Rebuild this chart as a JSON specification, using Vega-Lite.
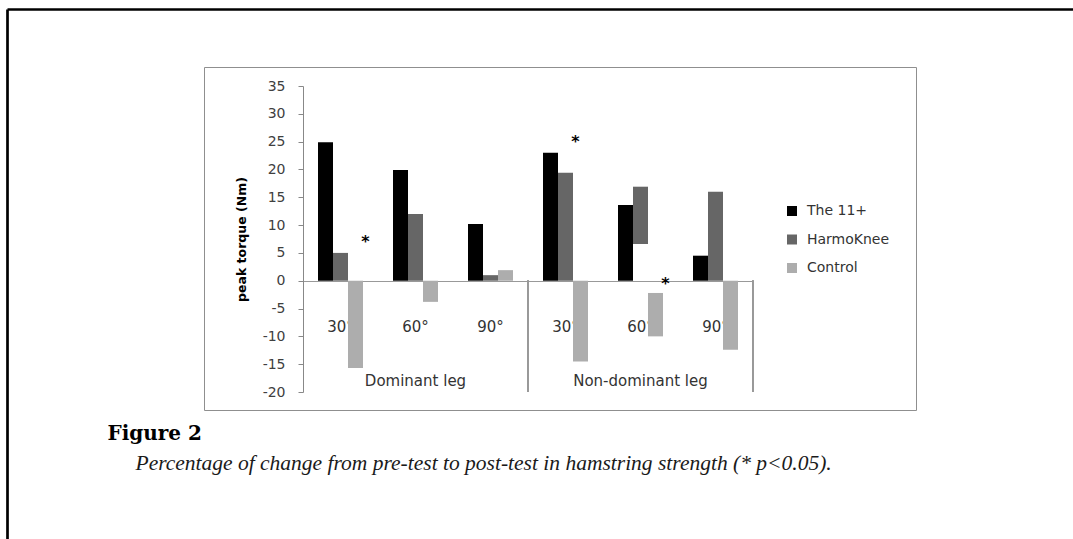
{
  "$schema": "https://vega.github.io/schema/vega-lite/v6.json",
  "width": 712,
  "height": 343,
  "autosize": {"type": "none"},
  "padding": {"left": 204, "top": 67, "right": 157, "bottom": 129},
  "background": "white",
  "config": {
    "view": {"stroke": "#8f8f8f", "strokeWidth": 1},
    "font": "DejaVu Sans"
  },
  "datasets": {
    "bars": [
      {"leg": "Dominant leg", "angle": "30°", "cat": "Dominant leg|30°", "group": "The 11+", "value": 24.9, "low": 0},
      {"leg": "Dominant leg", "angle": "30°", "cat": "Dominant leg|30°", "group": "HarmoKnee", "value": 5.0, "low": 0},
      {"leg": "Dominant leg", "angle": "30°", "cat": "Dominant leg|30°", "group": "Control", "value": -15.7, "low": 0},
      {"leg": "Dominant leg", "angle": "60°", "cat": "Dominant leg|60°", "group": "The 11+", "value": 19.9, "low": 0},
      {"leg": "Dominant leg", "angle": "60°", "cat": "Dominant leg|60°", "group": "HarmoKnee", "value": 12.0, "low": 0},
      {"leg": "Dominant leg", "angle": "60°", "cat": "Dominant leg|60°", "group": "Control", "value": -3.8, "low": 0},
      {"leg": "Dominant leg", "angle": "90°", "cat": "Dominant leg|90°", "group": "The 11+", "value": 10.2, "low": 0},
      {"leg": "Dominant leg", "angle": "90°", "cat": "Dominant leg|90°", "group": "HarmoKnee", "value": 1.0, "low": 0},
      {"leg": "Dominant leg", "angle": "90°", "cat": "Dominant leg|90°", "group": "Control", "value": 1.9, "low": 0},
      {"leg": "Non-dominant leg", "angle": "30°", "cat": "Non-dominant leg|30°", "group": "The 11+", "value": 23.0, "low": 0},
      {"leg": "Non-dominant leg", "angle": "30°", "cat": "Non-dominant leg|30°", "group": "HarmoKnee", "value": 19.4, "low": 0},
      {"leg": "Non-dominant leg", "angle": "30°", "cat": "Non-dominant leg|30°", "group": "Control", "value": -14.5, "low": 0},
      {"leg": "Non-dominant leg", "angle": "60°", "cat": "Non-dominant leg|60°", "group": "The 11+", "value": 13.6, "low": 0},
      {"leg": "Non-dominant leg", "angle": "60°", "cat": "Non-dominant leg|60°", "group": "HarmoKnee", "value": 16.9, "low": 6.6},
      {"leg": "Non-dominant leg", "angle": "60°", "cat": "Non-dominant leg|60°", "group": "Control", "value": -10.0, "low": -2.2},
      {"leg": "Non-dominant leg", "angle": "90°", "cat": "Non-dominant leg|90°", "group": "The 11+", "value": 4.5, "low": 0},
      {"leg": "Non-dominant leg", "angle": "90°", "cat": "Non-dominant leg|90°", "group": "HarmoKnee", "value": 16.0, "low": 0},
      {"leg": "Non-dominant leg", "angle": "90°", "cat": "Non-dominant leg|90°", "group": "Control", "value": -12.4, "low": 0}
    ],
    "stars": [
      {"cat": "Dominant leg|30°", "group": "Control", "value": 7.0},
      {"cat": "Non-dominant leg|30°", "group": "HarmoKnee", "value": 24.9},
      {"cat": "Non-dominant leg|60°", "group": "Control", "value": -0.6}
    ]
  },
  "layer": [
    {
      "data": {"name": "bars"},
      "layer": [
        {
          "mark": {"type": "bar"},
          "encoding": {
            "x": {
              "field": "cat", "type": "nominal",
              "scale": {
                "domain": ["Dominant leg|30°", "Dominant leg|60°", "Dominant leg|90°", "Non-dominant leg|30°", "Non-dominant leg|60°", "Non-dominant leg|90°"],
                "range": [99, 549], "paddingInner": 0, "paddingOuter": 0
              },
              "axis": {
                "orient": "bottom", "offset": -129,
                "domainColor": "#999999", "domainWidth": 1,
                "ticks": false, "tickSize": 0, "labelPadding": 38, "labelAngle": 0,
                "labelFont": "DejaVu Sans", "labelFontSize": 15, "labelColor": "#333333",
                "labelOverlap": false,
                "labelExpr": "split(datum.label, '|')[1]",
                "title": "Percentage of change from pre-test to post-test in hamstring strength (* p<0.05).",
                "titleFont": "Liberation Serif", "titleFontSize": 21.5, "titleFontStyle": "italic", "titleFontWeight": "normal",
                "titleColor": "#1a1a1a", "titleX": -69, "titleY": 188, "titleAlign": "left", "titleBaseline": "alphabetic", "titleAngle": 0
              }
            },
            "xOffset": {
              "field": "group", "type": "nominal",
              "scale": {"domain": ["The 11+", "HarmoKnee", "Control"], "paddingInner": 0, "paddingOuter": 1.5}
            },
            "y": {
              "field": "value", "type": "quantitative",
              "scale": {"domain": [-20, 35], "range": [325, 19], "nice": false, "zero": false},
              "axis": {
                "orient": "left", "offset": -99,
                "values": [-20, -15, -10, -5, 0, 5, 10, 15, 20, 25, 30, 35],
                "labelOverlap": false,
                "grid": false, "domainColor": "#888888", "tickColor": "#888888", "tickSize": 5,
                "labelPadding": 13, "labelFont": "DejaVu Sans", "labelFontSize": 14, "labelColor": "#404040",
                "labelExpr": "toString(datum.value)",
                "title": "peak torque (Nm)", "titleFont": "DejaVu Sans", "titleFontSize": 12.5, "titleFontWeight": "bold",
                "titleColor": "#000000", "titlePadding": 14
              }
            },
            "y2": {"field": "low"},
            "color": {
              "field": "group", "type": "nominal",
              "scale": {"domain": ["The 11+", "HarmoKnee", "Control"], "range": ["#000000", "#666666", "#adadad"]},
              "legend": {
                "orient": "none", "legendX": 581, "legendY": 137, "title": null,
                "symbolType": "square", "symbolSize": 100, "symbolStrokeWidth": 0,
                "labelFont": "DejaVu Sans", "labelFontSize": 14, "labelColor": "#333333",
                "rowPadding": 14.5, "labelOffset": 8, "padding": 0
              }
            }
          }
        },
        {
          "mark": {"type": "rule", "color": "#999999", "strokeWidth": 1},
          "encoding": {
            "x": {"datum": "Non-dominant leg|30°", "type": "nominal", "bandPosition": 0},
            "y": {"datum": 0, "type": "quantitative", "axis": {"values": [-20, -15, -10, -5, 0, 5, 10, 15, 20, 25, 30, 35], "labelOverlap": false}},
            "y2": {"datum": -20}
          }
        },
        {
          "mark": {"type": "rule", "color": "#999999", "strokeWidth": 1},
          "encoding": {
            "x": {"datum": "Non-dominant leg|90°", "type": "nominal", "bandPosition": 1},
            "y": {"datum": 0, "type": "quantitative", "axis": {"values": [-20, -15, -10, -5, 0, 5, 10, 15, 20, 25, 30, 35], "labelOverlap": false}},
            "y2": {"datum": -20}
          }
        },
        {
          "transform": [{"filter": "datum.group === 'The 11+' && datum.angle === '60°'"}],
          "mark": {"type": "text", "font": "DejaVu Sans", "fontSize": 15, "color": "#333333", "baseline": "middle", "align": "center"},
          "encoding": {
            "x": {"field": "cat", "type": "nominal"},
            "y": {"datum": -18, "type": "quantitative", "axis": {"values": [-20, -15, -10, -5, 0, 5, 10, 15, 20, 25, 30, 35], "labelOverlap": false}},
            "text": {"field": "leg"}
          }
        },
        {
          "data": {"name": "stars"},
          "mark": {"type": "text", "font": "DejaVu Sans", "fontSize": 16, "fontWeight": "bold", "color": "#000000", "baseline": "middle", "align": "center", "dx": 10},
          "encoding": {
            "x": {"field": "cat", "type": "nominal"},
            "xOffset": {"field": "group", "type": "nominal"},
            "y": {"field": "value", "type": "quantitative", "axis": {"values": [-20, -15, -10, -5, 0, 5, 10, 15, 20, 25, 30, 35], "labelOverlap": false}},
            "text": {"value": "*"}
          }
        }
      ]
    },
    {
      "data": {"values": [{"frame": "page"}]},
      "mark": {"type": "text"},
      "encoding": {
        "x": {
          "datum": 0, "type": "quantitative",
          "scale": {"domain": [0, 1], "range": [-197, 900]},
          "axis": {
            "orient": "top", "offset": 58, "domainColor": "#000000", "domainWidth": 2.7,
            "ticks": false, "labels": false, "grid": false,
            "title": "Figure 2", "titleFont": "DejaVu Serif", "titleFontSize": 20, "titleFontWeight": "bold",
            "titleColor": "#000000", "titleX": -97, "titleY": 430, "titleAlign": "left", "titleBaseline": "alphabetic", "titleAngle": 0
          }
        },
        "y": {
          "datum": 0, "type": "quantitative",
          "scale": {"domain": [0, 1], "range": [472, -58]},
          "axis": {
            "orient": "left", "offset": 197, "domainColor": "#000000", "domainWidth": 2.7,
            "ticks": false, "labels": false, "grid": false, "title": null
          }
        },
        "text": {"value": ""}
      }
    }
  ],
  "resolve": {
    "scale": {"x": "independent", "y": "independent"},
    "axis": {"x": "independent", "y": "independent"}
  }
}
